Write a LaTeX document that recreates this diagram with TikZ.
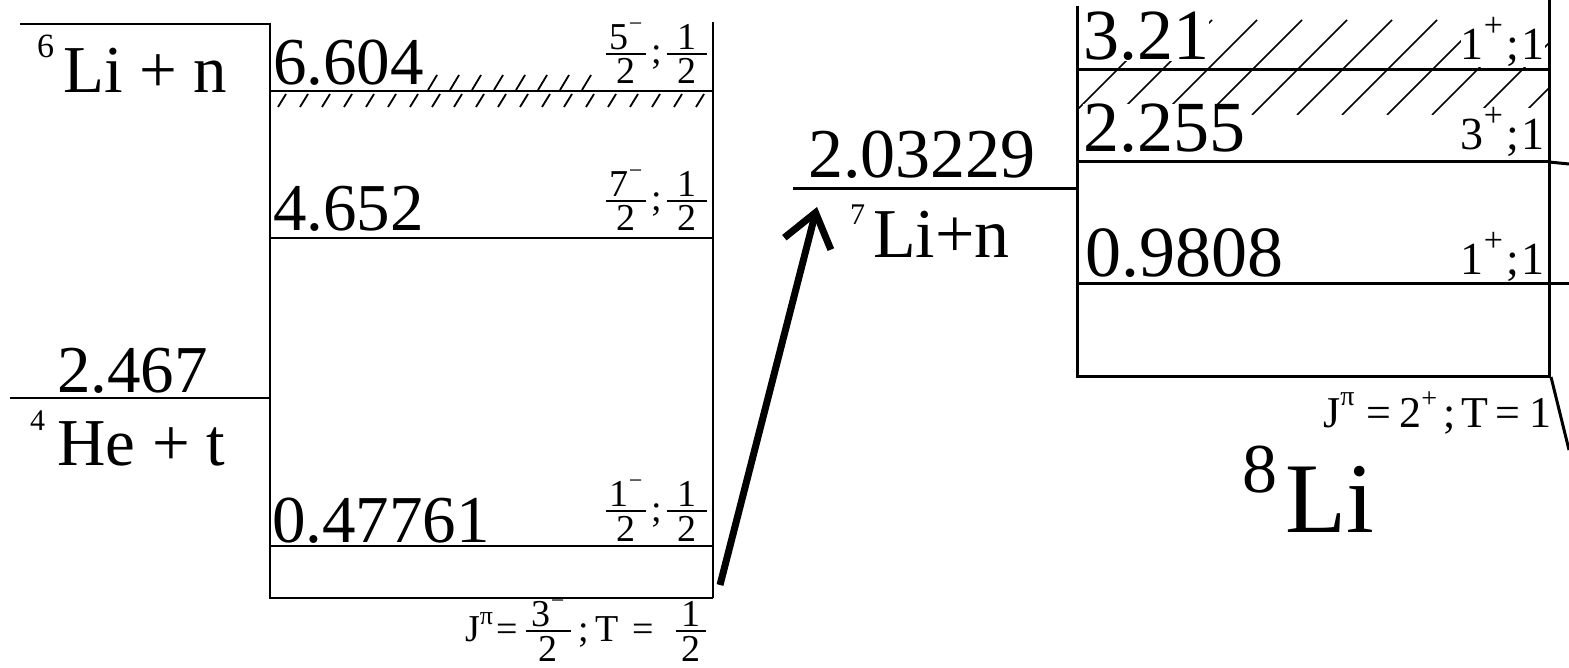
\documentclass[tikz,border=0pt]{standalone}
\usepackage{fontspec}
\setmainfont{Liberation Serif}
\usetikzlibrary{arrows.meta}
\setlength{\arrayrulewidth}{2pt}
\renewcommand{\arraystretch}{0.3}
\newcommand\up[3]{\raisebox{#1}{\fontsize{#2}{#2}\selectfont #3}}
\newcommand\fr[3][40pt]{\raisebox{-20pt}{\begin{tabular}[b]{@{}c@{}}\rule[-3pt]{0pt}{0pt}\makebox[#1]{#2}\\\hline\rule{0pt}{29pt}\makebox[#1]{#3}\end{tabular}}}
\begin{document}
\begin{tikzpicture}[x=1pt,y=-1pt,
  big/.style={inner sep=0pt, anchor=base west, font=\fontsize{67}{67}\selectfont},
  rbig/.style={inner sep=0pt, anchor=base west, font=\fontsize{72}{72}\selectfont},
  sm/.style={inner sep=0pt, font=\fontsize{38}{38}\selectfont},
  rsm/.style={inner sep=0pt, font=\fontsize{46}{46}\selectfont},
  mask/.style={fill=white},
  lvl/.style={line width=2pt},
  rlvl/.style={line width=3pt},
  thr/.style={line width=1.5pt},
  hatch/.style={line width=1.5pt},
  lhatch/.style={line width=1.8pt},
  arr/.style={line width=7pt, -{Straight Barb[length=32pt,width=48pt]}}]
\useasboundingbox (0,0) rectangle (1569,668);

% ---------- left panel (7Li) ----------
\coordinate (LT) at (270,23);
\coordinate (LB) at (270,598);
\coordinate (RT) at (713,22);
\coordinate (RB) at (713,598);
\draw[line width=2.5pt] (LT) -- (LB) -- (RB);
\draw[line width=1.3pt] (RB) -- (RT);
\draw[lvl] (270,91) -- (713,91);
\draw[lvl] (270,238) -- (713,238);
\draw[lvl] (270,546) -- (713,546);
\draw[thr] (20,24) -- (270,24);
\draw[thr] (10,398) -- (270,398);
% hatching of 6.604
\foreach \k in {0,...,19} \draw[lhatch] ({278+22*\k},107) -- ({286+22*\k},94);
\foreach \k in {0,...,7} \draw[lhatch] ({428+22*\k},90) -- ({437+22*\k},75);

\node[big] (li6) at (37,93) {\up{35pt}{34}{6}\hspace{9pt}Li + n};
\node[big] (e2467) at (57,392) {2.467};
\node[big] (he4) at (30,465) {\up{35pt}{30}{4}\hspace{12pt}He + t};
\node[big] (e6604) at (273,85) {6.604};
\node[big] (e4652) at (273,231) {4.652};
\node[big] (e0477) at (272,542) {0.47761};
\node[sm, anchor=base east] (q6604) at (707,64) {\fr{5\up{18pt}{24}{−}}{2}\hspace{5pt};\hspace{5pt}\fr{1}{2}};
\node[sm, anchor=base east] (q4652) at (707,211) {\fr{7\up{18pt}{24}{−}}{2}\hspace{5pt};\hspace{5pt}\fr{1}{2}};
\node[sm, anchor=base east] (q0477) at (707,521) {\fr{1\up{18pt}{24}{−}}{2}\hspace{5pt};\hspace{5pt}\fr{1}{2}};
\node[sm, anchor=base west] (gs7) at (465,641) {J\up{17pt}{26}{π}\hspace{3pt}=\hspace{8pt}\fr[45pt]{3\up{18pt}{24}{−}}{2}\hspace{8pt};\hspace{6pt}T\hspace{14pt}=\hspace{22pt}\fr[30pt]{1}{2}};

% ---------- middle: 7Li+n threshold ----------
\coordinate (m1) at (793,189);
\coordinate (m2) at (1077,189);
\draw[rlvl] (m1) -- (m2);
\node[big, font=\fontsize{70}{70}\selectfont] (e2032) at (808,178) {2.03229};
\node[big, font=\fontsize{70}{70}\selectfont] (li7) at (850,258) {\up{33pt}{30}{7}\hspace{8pt}Li+n};
\coordinate (a0) at (720,585);
\coordinate (a1) at (817,207);
\draw[arr] (a0) -- (a1);

% ---------- right panel (8Li) ----------
\begin{scope}
\clip (1077,20) rectangle (1549,115);
\foreach \k in {0,...,10} \draw[hatch] ({1072+45*\k},115) -- ({1167+45*\k},20);
\end{scope}
\node[rbig, mask] (e321) at (1083,60) {3.21};
\node[rbig, mask] (e2255) at (1083,152) {2.255};
\node[rbig] (e0980) at (1085,277) {0.9808};
\node[rsm, mask, anchor=base east] (s321) at (1545,60) {1\up{23pt}{34}{+}\hspace{3pt};\hspace{3pt}1};
\node[rsm, mask, anchor=base east] (s2255) at (1545,150) {3\up{23pt}{34}{+}\hspace{3pt};\hspace{3pt}1};
\node[rsm, anchor=base east] (s0980) at (1545,275) {1\up{23pt}{34}{+}\hspace{3pt};\hspace{3pt}1};
\coordinate (BLT) at (1077,6);
\coordinate (BLB) at (1077,376);
\coordinate (BRT) at (1549,0);
\coordinate (BRB) at (1549,376);
\draw[rlvl] (BLT) -- (BLB) -- (BRB) -- (BRT);
\draw[rlvl] (1077,70) -- (1549,70);
\draw[rlvl] (1077,162) -- (1549,162);
\draw[rlvl] (1077,284) -- (1569,284);
\draw[rlvl] (1549,162) -- (1569,164);
\draw[rlvl] (1551,377) -- (1569,450);
\node[inner sep=0pt, anchor=base west, font=\fontsize{44}{44}\selectfont] (gs8) at (1323,427) {J\up{22pt}{28}{π}\hspace{12pt}=\hspace{8pt}2\up{20pt}{28}{+}\hspace{6pt};\hspace{6pt}T\hspace{7pt}=\hspace{10pt}1};
\node[big, font=\fontsize{100}{100}\selectfont] (li8) at (1242,532) {\up{40pt}{70}{8}\hspace{8pt}Li};
\end{tikzpicture}
\end{document}
